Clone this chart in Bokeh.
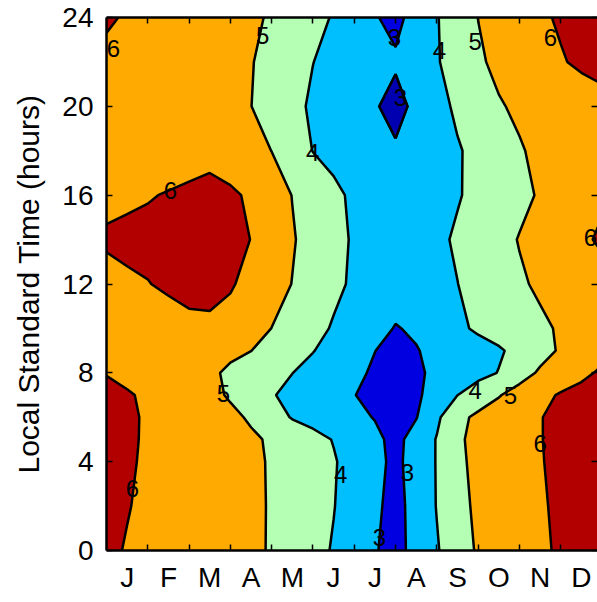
import numpy as np
from bokeh.plotting import figure
from bokeh.models import Range1d, FixedTicker, LinearAxis
from bokeh.core.properties import value
from bokeh.embed import file_html
from bokeh.resources import INLINE

# grid coordinates: months (0 = start of Jan, 12 = end of Dec) and local hour
months_x = [0.0, 0.5, 1.0, 1.5, 2.0, 2.5, 3.0, 3.5, 4.0, 4.5, 5.0, 5.5, 6.0,
            6.5, 7.0, 7.5, 8.0, 8.5, 9.0, 9.5, 10.0, 10.5, 11.0, 11.5, 12.0]
hours = [0, 2, 4, 5, 6, 7, 8, 9, 10, 12, 14, 16, 18, 20, 22, 24]

# values, one row per hour
z_h00 = [6.12, 5.96, 5.82, 5.68, 5.54, 5.40, 5.26, 5.12, 4.95, 4.61, 4.28, 3.93, 3.49, 3.05, 2.75, 3.25, 3.92, 4.59, 5.10, 5.37, 5.64, 5.90, 6.08, 6.22, 6.35]
z_h02 = [6.20, 6.03, 5.88, 5.73, 5.58, 5.43, 5.28, 5.13, 4.95, 4.64, 4.34, 4.03, 3.59, 3.14, 2.75, 3.29, 4.04, 4.74, 5.16, 5.42, 5.68, 5.93, 6.11, 6.25, 6.40]
z_h04 = [6.25, 6.08, 5.91, 5.76, 5.60, 5.44, 5.28, 5.13, 4.94, 4.65, 4.36, 4.07, 3.67, 3.24, 2.80, 3.37, 4.05, 4.84, 5.20, 5.46, 5.71, 5.97, 6.12, 6.26, 6.40]
z_h05 = [6.25, 6.09, 5.93, 5.76, 5.60, 5.44, 5.28, 5.11, 4.91, 4.59, 4.28, 3.96, 3.58, 3.20, 2.75, 3.36, 4.05, 4.88, 5.22, 5.47, 5.73, 5.98, 6.13, 6.26, 6.40]
z_h06 = [6.25, 6.10, 5.93, 5.74, 5.54, 5.35, 5.16, 4.91, 4.39, 3.94, 3.70, 3.46, 3.21, 2.96, 2.60, 2.96, 3.83, 4.75, 5.19, 5.46, 5.72, 5.98, 6.13, 6.26, 6.40]
z_h07 = [6.20, 6.07, 5.88, 5.65, 5.42, 5.19, 4.92, 4.49, 4.06, 3.78, 3.53, 3.27, 3.02, 2.76, 2.60, 2.87, 3.33, 3.99, 4.47, 4.94, 5.38, 5.80, 6.07, 6.21, 6.35]
z_h08 = [5.97, 5.80, 5.63, 5.45, 5.28, 5.11, 4.89, 4.59, 4.30, 4.01, 3.72, 3.45, 3.17, 2.89, 2.60, 2.88, 3.16, 3.45, 3.73, 4.03, 4.61, 5.12, 5.55, 5.85, 6.10]
z_h09 = [5.85, 5.73, 5.61, 5.49, 5.37, 5.25, 5.13, 5.01, 4.70, 4.36, 4.03, 3.69, 3.35, 3.01, 2.77, 2.96, 3.20, 3.43, 3.67, 3.90, 4.25, 4.69, 5.10, 5.45, 5.80]
z_h10 = [5.75, 5.70, 5.68, 5.72, 5.80, 5.82, 5.70, 5.40, 4.99, 4.62, 4.27, 3.92, 3.59, 3.25, 2.96, 3.10, 3.46, 3.83, 4.13, 4.37, 4.61, 4.85, 5.09, 5.35, 5.60]
z_h12 = [5.80, 5.92, 5.98, 6.10, 6.25, 6.28, 6.08, 5.75, 5.37, 4.98, 4.59, 4.19, 3.87, 3.61, 3.35, 3.57, 3.78, 3.99, 4.30, 4.59, 4.89, 5.13, 5.34, 5.54, 5.75]
z_h14 = [6.08, 6.12, 6.17, 6.22, 6.28, 6.33, 6.19, 5.99, 5.53, 5.07, 4.67, 4.27, 3.90, 3.60, 3.30, 3.56, 3.83, 4.11, 4.42, 4.73, 5.04, 5.32, 5.60, 5.88, 6.10]
z_h16 = [5.85, 5.91, 5.96, 6.04, 6.14, 6.30, 6.11, 5.90, 5.44, 4.98, 4.58, 4.18, 3.85, 3.57, 3.30, 3.51, 3.73, 3.94, 4.21, 4.50, 4.79, 5.08, 5.35, 5.63, 5.90]
z_h18 = [5.60, 5.60, 5.62, 5.65, 5.68, 5.70, 5.62, 5.35, 4.99, 4.48, 3.98, 3.76, 3.54, 3.32, 3.10, 3.37, 3.65, 3.92, 4.25, 4.59, 4.93, 5.18, 5.40, 5.63, 5.85]
z_h20 = [5.60, 5.52, 5.43, 5.35, 5.26, 5.18, 5.09, 5.01, 4.62, 4.22, 3.88, 3.61, 3.34, 3.07, 2.74, 3.19, 3.70, 4.16, 4.54, 4.93, 5.14, 5.30, 5.47, 5.60, 5.70]
z_h22 = [5.85, 5.73, 5.62, 5.50, 5.39, 5.27, 5.15, 5.04, 4.75, 4.38, 4.01, 3.78, 3.55, 3.33, 3.10, 3.51, 3.93, 4.39, 4.88, 5.19, 5.44, 5.69, 5.94, 6.13, 6.30]
z_h24 = [6.08, 5.94, 5.80, 5.66, 5.53, 5.39, 5.25, 5.11, 4.93, 4.61, 4.28, 3.93, 3.49, 3.05, 2.80, 3.28, 3.95, 4.49, 5.01, 5.30, 5.59, 5.88, 6.09, 6.25, 6.40]

levels = [2.0, 3.0, 4.0, 5.0, 6.0, 7.0]
level_colors = ["#0000e0", "#00bfff", "#b4ffb4", "#ffaa00", "#b20000"]
inner_blob_color = "#0000b0"

month_labels = ["J", "F", "M", "A", "M", "J", "J", "A", "S", "O", "N", "D"]
month_centres = [0.5, 1.5, 2.5, 3.5, 4.5, 5.5, 6.5, 7.5, 8.5, 9.5, 10.5, 11.5]
month_edges = [1, 2, 3, 4, 5, 6, 7, 8, 9, 10, 11]
hour_ticks = [0, 4, 8, 12, 16, 20, 24]

label_x = [0.17, 3.78, 1.55, 4.99, 2.83, 0.63, 5.67, 7.29, 6.61, 8.93, 9.78, 10.50, 6.97, 7.12, 8.06, 8.93, 10.75, 11.72]
label_y = [22.6, 23.2, 16.2, 17.9, 7.07, 2.8, 3.4, 3.5, 0.6, 7.2, 7.0, 4.8, 23.1, 20.4, 22.5, 22.9, 23.1, 14.1]
label_text = ["6", "5", "6", "4", "5", "6", "4", "3", "3", "4", "5", "6", "3", "3", "4", "5", "6", "6"]

Z = np.array([z_h00, z_h02, z_h04, z_h05, z_h06, z_h07, z_h08, z_h09, z_h10,
              z_h12, z_h14, z_h16, z_h18, z_h20, z_h22, z_h24])
X = np.array(months_x)
Y = np.array(hours, dtype=float)

FONT = "Liberation Sans"

p = figure(width=597, height=602, x_range=Range1d(0, 11.89), y_range=Range1d(0, 24),
           output_backend="svg", toolbar_location=None,
           min_border_left=106, min_border_right=0, min_border_top=17, min_border_bottom=52)
p.outline_line_color = None
p.grid.visible = False
p.background_fill_color = "white"
p.border_fill_color = "white"

p.contour(X, Y, Z, levels, fill_color=level_colors, line_color="black", line_width=2.5)

# darker inner minimum around 20h (sub-grid of the same data)
ix = slice(12, 17)
iy = slice(12, 15)
p.contour(X[ix], Y[iy], Z[iy, ix], [2.0, 3.0], fill_color=[inner_blob_color],
          line_color="black", line_width=2.5)

p.text(x=label_x, y=label_y, text=label_text, text_font=value(FONT),
       text_font_size="24px", text_align="center", text_baseline="middle",
       text_color="black")

# bottom axis
xa = p.xaxis[0]
xa.ticker = FixedTicker(ticks=month_centres, minor_ticks=month_edges)
xa.major_label_overrides = {c: m for c, m in zip(month_centres, month_labels)}
xa.major_tick_in = 0
xa.major_tick_out = 0
xa.minor_tick_in = 6
xa.minor_tick_out = 0
xa.minor_tick_line_width = 1.5
xa.axis_line_width = 2.5
xa.major_label_text_font = FONT
xa.major_label_text_font_size = "28px"
xa.major_label_text_color = "black"
xa.major_label_standoff = 11

# left axis
ya = p.yaxis[0]
ya.ticker = FixedTicker(ticks=hour_ticks)
ya.major_tick_in = 6
ya.major_tick_out = 0
ya.major_tick_line_width = 1.5
ya.axis_line_width = 2.5
ya.major_label_text_font = FONT
ya.major_label_text_font_size = "28px"
ya.major_label_text_color = "black"
ya.major_label_standoff = 13
ya.axis_label = "Local Standard Time (hours)"
ya.axis_label_text_font = FONT
ya.axis_label_text_font_size = "30px"
ya.axis_label_text_font_style = "normal"
ya.axis_label_text_color = "black"
ya.axis_label_standoff = 14

# top axis: tick marks only (no major ticks -> no labels)
ta = LinearAxis(ticker=FixedTicker(ticks=[], minor_ticks=month_edges),
                minor_tick_in=6, minor_tick_out=0, minor_tick_line_width=1.5,
                axis_line_width=2.5, major_label_standoff=0)
p.add_layout(ta, "above")

# right axis: tick marks only
ra = LinearAxis(ticker=FixedTicker(ticks=[], minor_ticks=hour_ticks),
                minor_tick_in=6, minor_tick_out=0, minor_tick_line_width=1.5,
                axis_line_color=None, major_label_standoff=0)
p.add_layout(ra, "right")

open("out.html", "w").write(file_html(p, INLINE))
